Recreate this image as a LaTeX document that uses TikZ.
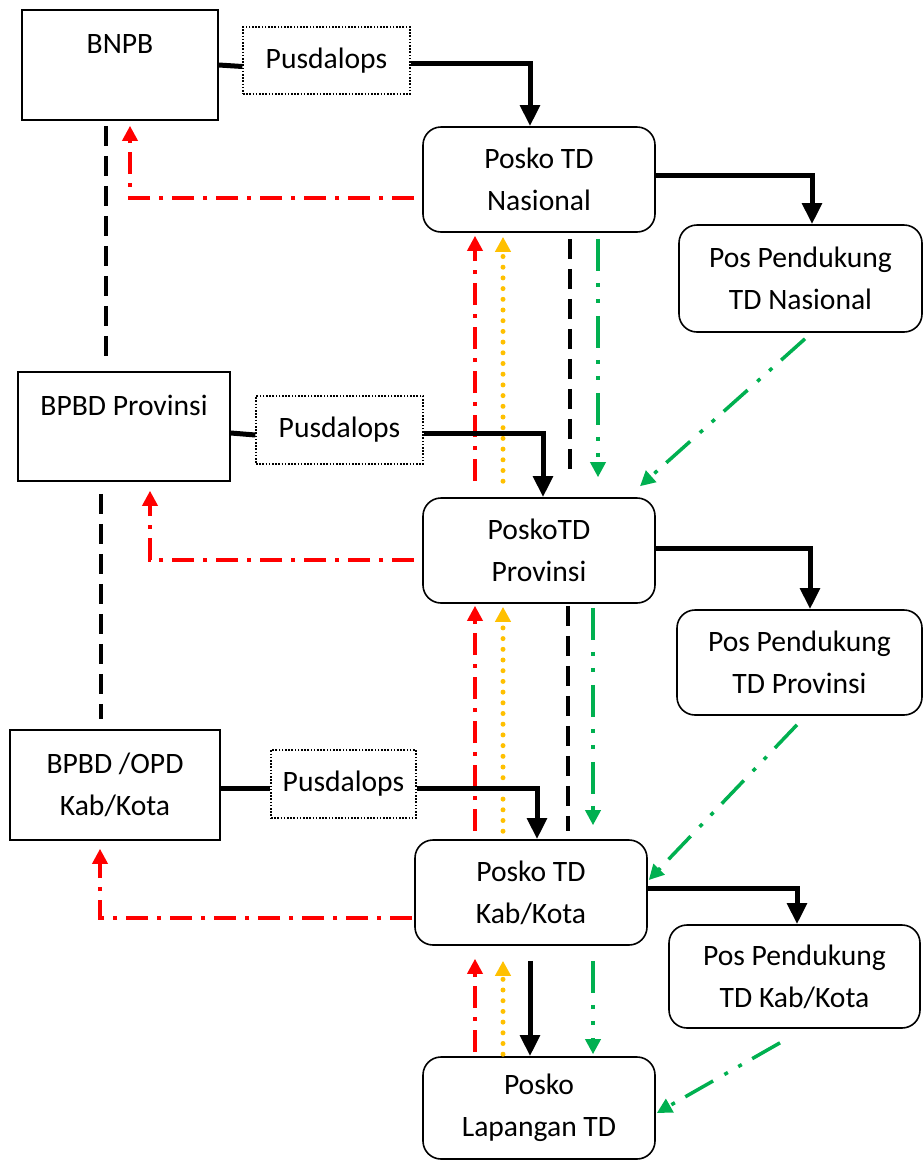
\documentclass[tikz,border=0pt]{standalone}
\usepackage{fontspec}
\setmainfont{Carlito}
\usetikzlibrary{arrows.meta}
\definecolor{lapred}{HTML}{FF0000}
\definecolor{lapyellow}{HTML}{FFC000}
\definecolor{lapgreen}{HTML}{00B050}
\begin{document}
\begin{tikzpicture}[x=1pt,y=-1pt,
    badan/.style={draw,line width=1.6pt},
    posko/.style={draw,line width=1.6pt,rounded corners=18pt},
    pusat/.style={draw,line width=1.2pt,dash pattern=on 1.6pt off 1.6pt},
    garis/.style={line width=5pt},
    alur/.style={line width=5pt,-{Triangle[width=19pt,length=21pt]}},
    lapor/.style={lapred,line width=3.5pt,dash pattern=on 22pt off 9pt on 4pt off 9pt,-{Triangle[width=15pt,length=15pt]}},
    info/.style={lapyellow,line width=5pt,line cap=round,dash pattern=on 0pt off 10.7pt,-{Triangle[width=15pt,length=15pt]}},
    koord/.style={line width=3.5pt,dash pattern=on 20pt off 10pt},
    dukung/.style={lapgreen,line width=3.5pt,dash pattern=on 32pt off 12pt on 4pt off 12pt on 4pt off 13pt,-{Triangle[width=15pt,length=15pt]}}]
\tikzset{every node/.style={align=center,inner sep=0pt,font=\fontsize{29.6}{42}\selectfont}}
%\tikzset{every node/.style={align=center,
%                            font=\sffamily\Large
%                           }}
\useasboundingbox (0,0) rectangle (924,1160);
\node[badan,minimum width=196pt,minimum height=110pt] (bnpb) at (120,65) {BNPB\\\phantom{B}};
\node[pusat,minimum width=167pt,minimum height=67pt] (pus1) at (326.5,60.5) {Pusdalops};
\node[posko,minimum width=232pt,minimum height=105pt] (nas) at (539,179.5) {Posko TD\\Nasional};
\node[posko,minimum width=243pt,minimum height=107pt] (pnas) at (800.5,278.5) {Pos Pendukung\\TD Nasional};
\node[badan,minimum width=212pt,minimum height=109pt] (bprov) at (124,426.5) {BPBD Provinsi\\\phantom{B}};
\node[pusat,minimum width=167pt,minimum height=68pt] (pus2) at (339.5,430) {Pusdalops};
\node[posko,minimum width=232pt,minimum height=105pt] (prov) at (539,550.5) {PoskoTD\\Provinsi};
\node[posko,minimum width=245pt,minimum height=105pt] (pprov) at (799.5,662.5) {Pos Pendukung\\TD Provinsi};
\node[badan,minimum width=210pt,minimum height=110pt] (bkab) at (115,785) {BPBD /OPD\\Kab/Kota};
\node[pusat,minimum width=145pt,minimum height=68pt] (pus3) at (343.5,784) {Pusdalops};
\node[posko,minimum width=232pt,minimum height=105pt] (kab) at (531,892.5) {Posko TD\\Kab/Kota};
\node[posko,minimum width=251pt,minimum height=103pt] (pkab) at (794.5,976.5) {Pos Pendukung\\TD Kab/Kota};
\node[posko,minimum width=232pt,minimum height=102pt] (lap) at (539,1108) {Posko\\Lapangan TD};

% nasional
\draw[garis] (bnpb.east) -- ([yshift=-6pt]pus1.west);
\draw[alur] ([yshift=-3pt]pus1.east) -| ([xshift=-9pt]nas.north);
\draw[alur] ([yshift=4.5pt]nas.east) -| ([xshift=11.5pt]pnas.north);
\draw[lapor] ([xshift=-8pt,yshift=-18.5pt]nas.west) -| ([xshift=10pt,yshift=-5pt]bnpb.south);
\draw[koord] ([xshift=-14pt,yshift=-5pt]bnpb.south) -- ([xshift=-18pt,yshift=15pt]bprov.north);
\draw[lapor] ([xshift=-64pt,yshift=16pt]prov.north) -- ([xshift=-64pt,yshift=-3pt]nas.south);
\draw[info] ([xshift=-36pt,yshift=16pt]prov.north) -- ([xshift=-36pt,yshift=-4pt]nas.south);
\draw[koord] ([xshift=31pt,yshift=-6pt]nas.south) -- ([xshift=31pt,yshift=21pt]prov.north);
\draw[dukung] ([xshift=59pt,yshift=-6pt]nas.south) -- ([xshift=59pt,yshift=20pt]prov.north);
\draw[dukung] ([xshift=4.5pt,yshift=-6pt]pnas.south) -- ([xshift=101pt,yshift=11pt]prov.north);

% provinsi
\draw[garis] ([yshift=-6.5pt]bprov.east) -- ([yshift=-5pt]pus2.west);
\draw[alur] ([yshift=-3pt]pus2.east) -| ([xshift=4pt]prov.north);
\draw[alur] ([yshift=2.5pt]prov.east) -| ([xshift=10.5pt]pprov.north);
\draw[lapor] ([xshift=-8pt,yshift=-9.5pt]prov.west) -| ([xshift=26pt,yshift=-9pt]bprov.south);
\draw[koord] ([xshift=-23pt,yshift=-12pt]bprov.south) -- ([xshift=-14pt,yshift=10pt]bkab.north);
\draw[lapor] ([xshift=-56pt,yshift=8pt]kab.north) -- ([xshift=-64pt,yshift=-2pt]prov.south);
\draw[info] ([xshift=-28pt,yshift=8pt]kab.north) -- ([xshift=-36pt,yshift=-3pt]prov.south);
\draw[koord] ([xshift=29pt,yshift=-2pt]prov.south) -- ([xshift=37pt,yshift=8pt]kab.north);
\draw[dukung] ([xshift=54pt,yshift=-4pt]prov.south) -- ([xshift=62pt,yshift=14pt]kab.north);
\draw[dukung] ([xshift=-2.5pt,yshift=-9pt]pprov.south) -- ([xshift=1pt,yshift=12.5pt]kab.east);

% kab/kota
\draw[garis] ([yshift=-3pt]bkab.east) -- ([yshift=-4pt]pus3.west);
\draw[alur] ([yshift=-4pt]pus3.east) -| ([xshift=6pt]kab.north);
\draw[alur] ([yshift=4.5pt]kab.east) -| ([xshift=2.5pt]pkab.north);
\draw[lapor] ([xshift=-2pt,yshift=-25.5pt]kab.west) -| ([xshift=-15pt,yshift=-8pt]bkab.south);
\draw[lapor] ([xshift=-64pt,yshift=4pt]lap.north) -- ([xshift=-56pt,yshift=-13pt]kab.south);
\draw[info] ([xshift=-36pt,yshift=2pt]lap.north) -- ([xshift=-28pt,yshift=-15pt]kab.south);
\draw[alur] ([xshift=-1pt,yshift=-15pt]kab.south) -- ([xshift=-9pt]lap.north);
\draw[dukung] ([xshift=62pt,yshift=-15pt]kab.south) -- ([xshift=54pt,yshift=2pt]lap.north);
\draw[dukung] ([xshift=-14.5pt,yshift=-14pt]pkab.south) -- ([xshift=1pt,yshift=-5pt]lap.east);
\end{tikzpicture}
\end{document}
